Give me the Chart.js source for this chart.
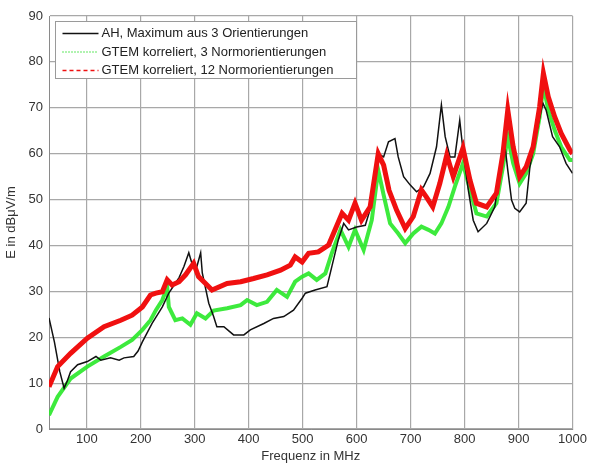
<!DOCTYPE html>
<html>
<head>
<meta charset="utf-8">
<script src="https://cdn.jsdelivr.net/npm/chart.js@4/dist/chart.umd.min.js"></script>
<style>
  html, body { margin: 0; padding: 0; background: #fff; }
  #wrap { width: 590px; height: 464px; }
</style>
</head>
<body>
<div id="wrap"><canvas id="fieldChart"></canvas></div>
<script>
// legend texts
const seriesNames = [
  "AH, Maximum aus 3 Orientierungen",
  "GTEM korreliert, 3 Normorientierungen",
  "GTEM korreliert, 12 Normorientierungen"
];

// AH measurement (black)
const ahFreq = [30, 40, 50, 58, 64, 70, 83, 101, 117, 126, 144, 160, 169, 187, 195, 203, 221, 240, 252, 271,
  280, 289, 295, 304, 311, 314, 326, 335, 341, 354, 372, 391, 403, 428, 446, 465, 483, 499, 505, 523,
  545, 554, 566, 576, 585, 600, 616, 628, 640, 650, 659, 671, 677, 687, 699, 711, 724, 736, 748, 757,
  764, 773, 782, 791, 797, 807, 816, 825, 841, 856, 868, 875, 880, 887, 893, 902, 914, 921, 933, 945,
  951, 963, 976, 988, 1000];
const ahLevel = [24.2, 19, 12.5, 8.9, 10.5, 12.5, 14, 14.7, 15.8, 15, 15.5, 15, 15.5, 15.8, 17, 19, 23, 26.6, 29.6, 33,
  35.4, 38.4, 36, 35.4, 38.4, 34, 27.4, 24.5, 22.3, 22.3, 20.5, 20.5, 21.6, 23, 24.1, 24.5, 25.9, 28.5, 29.6, 30.3,
  31, 35.4, 41.2, 44.8, 43.4, 44, 44.4, 49, 60, 59.3, 62.6, 63.3, 59.3, 55, 53.2, 51.7, 52.8, 55.7, 61.5, 70.6,
  63.7, 59.3, 59.3, 67.3, 60.8, 52, 45.5, 43, 44.8, 48.4, 58.6, 61.5, 56.4, 49.9, 48.1, 47.3, 49.2, 57.1, 64.4, 71,
  69.5, 63.7, 61.5, 57.9, 55.7];

// GTEM, 3 orientations (green)
const gtem3Freq = [30, 46, 70, 101, 132, 163, 184, 203, 218, 228, 240, 249, 252, 264, 277, 292, 304, 320, 335, 360,
  385, 397, 415, 434, 452, 471, 486, 499, 511, 526, 542, 554, 570, 585, 597, 613, 628, 640, 650, 662,
  677, 690, 705, 720, 733, 745, 757, 770, 782, 797, 810, 822, 841, 859, 871, 880, 890, 902, 914, 927,
  939, 946, 955, 967, 979, 995, 1000];
const gtem3Level = [3, 7, 11, 13.6, 15.8, 17.9, 19.4, 21.6, 23.7, 25.9, 28.1, 31, 26.6, 23.7, 24.1, 22.7, 25.2, 24.1, 25.8, 26.3,
  27, 28.1, 27, 27.7, 30.3, 28.8, 32.1, 33.2, 33.9, 32.5, 33.9, 38.3, 43.4, 39.7, 43.4, 39, 45.5, 56.4, 51, 44.8,
  42.6, 40.5, 42.6, 44.1, 43.4, 42.6, 44.8, 48.4, 52.8, 57.9, 52.1, 47, 46.3, 49.2, 57.1, 63.7, 57.9, 53.5, 55.7, 60,
  68, 74.9, 69.5, 65.1, 61.5, 58.6, 58.6];

// GTEM, 12 orientations (red)
const gtem12Freq = [30, 46, 70, 101, 132, 163, 184, 203, 218, 228, 240, 249, 258, 271, 283, 298, 307, 320, 332, 360,
  385, 409, 434, 459, 477, 486, 499, 511, 529, 548, 560, 573, 585, 597, 609, 625, 640, 650, 660, 674,
  690, 705, 720, 729, 741, 754, 767, 779, 797, 810, 822, 841, 859, 871, 880, 890, 902, 914, 927, 939,
  946, 955, 967, 979, 995, 1000];
const gtem12Level = [9.2, 13.6, 16.5, 19.8, 22.3, 23.7, 24.8, 26.6, 29.2, 29.6, 29.9, 32.5, 31.4, 32.1, 33.6, 36.1, 33.2, 31.7, 30.3, 31.7,
  32.1, 32.8, 33.6, 34.6, 35.7, 37.5, 36.4, 38.3, 38.6, 40.1, 43.4, 47, 45.5, 49.2, 45.5, 48.4, 60, 57.5, 52, 47.7,
  43.7, 46.3, 52.1, 50.6, 48.4, 53.5, 59.7, 55, 61.2, 54.2, 49.2, 48.4, 51.4, 60, 69.5, 61.5, 55, 57.1, 61.5, 70.2,
  77.5, 72.4, 68, 64.4, 60.8, 60];

const xTicks = [100, 200, 300, 400, 500, 600, 700, 800, 900, 1000];
const yTicks = [0, 10, 20, 30, 40, 50, 60, 70, 80, 90];

const toPoints = (fs, vs) => fs.map((f, i) => ({ x: f, y: vs[i] }));

const fontFamily = "'Liberation Sans', Arial, sans-serif";

// legend drawn inside the plot like the original
const legendInside = {
  id: "legendInside",
  afterDatasetsDraw(chart) {
    const ctx = chart.ctx;
    const area = chart.chartArea;
    const x0 = area.left + 6.5, y0 = area.top + 5.5;
    ctx.save();
    ctx.fillStyle = "#fff";
    ctx.strokeStyle = "#9a9a9a";
    ctx.lineWidth = 1;
    ctx.fillRect(x0, y0, 301, 57);
    ctx.strokeRect(x0, y0, 301, 57);
    ctx.font = "13px " + fontFamily;
    ctx.textBaseline = "middle";
    chart.data.datasets.forEach((ds, i) => {
      const y = y0 + 12 + i * 18.5;
      ctx.setLineDash(ds.legendDash);
      ctx.strokeStyle = ds.legendColor;
      ctx.lineWidth = ds.legendWidth;
      ctx.beginPath();
      ctx.moveTo(x0 + 7, y);
      ctx.lineTo(x0 + 43, y);
      ctx.stroke();
      ctx.setLineDash([]);
      ctx.fillStyle = "#222";
      ctx.fillText(ds.label, x0 + 46, y);
    });
    ctx.restore();
  }
};

new Chart(document.getElementById("fieldChart"), {
  type: "line",
  data: {
    datasets: [
      {
        label: seriesNames[0],
        data: toPoints(ahFreq, ahLevel),
        borderColor: "#111",
        borderWidth: 1.5,
        legendColor: "#111",
        legendDash: [],
        legendWidth: 1.5,
        order: 1
      },
      {
        label: seriesNames[1],
        data: toPoints(gtem3Freq, gtem3Level),
        borderColor: "rgba(40,232,40,0.9)",
        borderWidth: 4,
        legendColor: "#2fe02f",
        legendDash: [1, 2],
        legendWidth: 1.5,
        order: 2
      },
      {
        label: seriesNames[2],
        data: toPoints(gtem12Freq, gtem12Level),
        borderColor: "#f01010",
        borderWidth: 5,
        legendColor: "#f01010",
        legendDash: [4, 3],
        legendWidth: 1.5,
        order: 0
      }
    ]
  },
  options: {
    responsive: true,
    maintainAspectRatio: false,
    animation: false,
    layout: { padding: { top: 16, right: 15, left: 0, bottom: 0 } },
    elements: { point: { radius: 0 }, line: { tension: 0 } },
    plugins: { legend: { display: false }, tooltip: { enabled: false } },
    scales: {
      x: {
        type: "linear",
        min: 30,
        max: 1000,
        afterBuildTicks: s => { s.ticks = xTicks.map(v => ({ value: v })); },
        afterFit: s => { s.height = 35; },
        grid: { color: "#a8a8a8", lineWidth: 1.2, drawTicks: false },
        border: { color: "#8a8a8a", width: 1 },
        ticks: { color: "#333", padding: 3, font: { size: 13, family: fontFamily }, maxRotation: 0,
          callback: v => String(v) },
        title: { display: true, text: "Frequenz in MHz", color: "#333", padding: { top: 0, bottom: 0 },
          font: { size: 13, family: fontFamily } }
      },
      y: {
        min: 0,
        max: 90,
        afterBuildTicks: s => { s.ticks = yTicks.map(v => ({ value: v })); },
        afterFit: s => { s.width = 49; },
        grid: { color: "#a8a8a8", lineWidth: 1.2, drawTicks: false },
        border: { color: "#8a8a8a", width: 1 },
        ticks: { color: "#333", padding: 6, font: { size: 13, family: fontFamily }, callback: v => String(v) },
        title: { display: true, text: "E in dBμV/m", color: "#333", padding: { top: 4, bottom: 0 },
          font: { size: 13, family: fontFamily } }
      }
    }
  },
  plugins: [legendInside]
});
</script>
</body>
</html>
